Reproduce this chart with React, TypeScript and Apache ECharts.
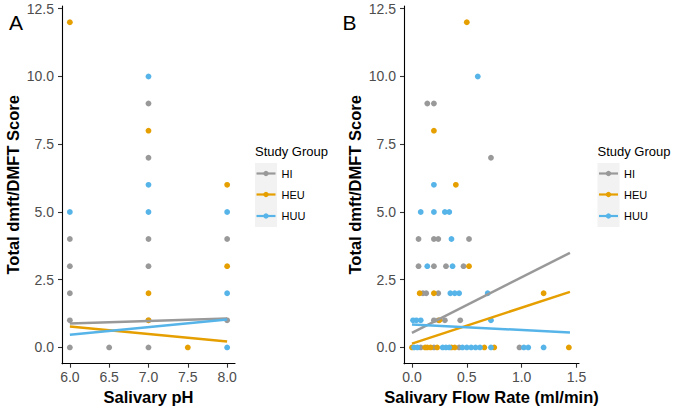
import React, { useEffect, useRef } from "react";
import * as echarts from "echarts";

const FONT = "'Liberation Sans', Arial, Helvetica, sans-serif";

const groups = ["HI", "HEU", "HUU"];
const groupColors = ["#999999", "#E69F00", "#56B4E9"];

// Panel A: [salivary pH, total dmft/DMFT score]
const phHI: number[][] = [
  [6, 4], [6, 3], [6, 2], [6, 1], [6, 0], [6.5, 0],
  [7, 9], [7, 7], [7, 4], [7, 3], [7, 1], [7, 0],
  [8, 4], [8, 1],
];
const phHEU: number[][] = [
  [6, 12], [7, 8], [7, 2], [7, 1], [7.5, 0], [8, 6], [8, 3],
];
const phHUU: number[][] = [
  [6, 5], [7, 10], [7, 6], [7, 5], [8, 5], [8, 2], [8, 0],
];

// Panel B: [salivary flow rate (ml/min), total dmft/DMFT score]
const flowHI: number[][] = [
  [0.08, 0], [0.2, 0], [0.43, 0], [0.98, 0],
  [0.2, 1], [0.24, 1], [0.3, 1], [0.44, 1],
  [0.1, 2], [0.13, 2], [0.24, 2],
  [0.06, 3], [0.2, 3], [0.31, 3], [0.47, 3],
  [0.06, 4], [0.2, 4], [0.24, 4], [0.52, 4],
  [0.72, 7], [0.14, 9], [0.2, 9],
];
const flowHEU: number[][] = [
  [0, 0], [0.12, 0], [0.14, 0], [0.17, 0], [0.23, 0], [0.36, 0], [0.39, 0],
  [0.66, 0], [0.75, 0], [1.43, 0],
  [0.25, 1],
  [0.07, 2], [0.2, 2], [1.2, 2],
  [0.52, 3],
  [0.4, 6], [0.2, 8], [0.5, 12],
];
const flowHUU: number[][] = [
  [0.02, 0], [0.05, 0], [0.28, 0], [0.31, 0], [0.34, 0], [0.46, 0], [0.5, 0],
  [0.54, 0], [0.58, 0], [0.62, 0], [0.72, 0], [1.02, 0], [1.06, 0], [1.2, 0],
  [0.01, 1], [0.04, 1], [0.08, 1], [0.72, 1],
  [0.35, 2], [0.39, 2], [0.43, 2], [0.69, 2],
  [0.14, 3], [0.37, 3],
  [0.36, 4],
  [0.08, 5], [0.2, 5], [0.3, 5], [0.34, 5],
  [0.2, 6], [0.6, 10],
];

// Fitted linear trend endpoints
const fitPhHI = [[6, 0.88], [8, 1.07]];
const fitPhHEU = [[6, 0.77], [8, 0.22]];
const fitPhHUU = [[6, 0.47], [8, 1.03]];
const fitFlowHI = [[0, 0.54], [1.44, 3.49]];
const fitFlowHEU = [[0, 0.14], [1.44, 2.05]];
const fitFlowHUU = [[0, 0.85], [1.44, 0.55]];

const yTicks = [0, 2.5, 5, 7.5, 10, 12.5];
const phTicks = [6, 6.5, 7, 7.5, 8];
const flowTicks = [0, 0.5, 1, 1.5];

const yTitle = "Total dmft/DMFT Score";
const xTitleA = "Salivary pH";
const xTitleB = "Salivary Flow Rate (ml/min)";
const legendTitle = "Study Group";

function makeXAxis(gridIndex: number, min: number, max: number, ticks: number[], name: string) {
  return {
    type: "value",
    gridIndex,
    min,
    max,
    name,
    nameLocation: "middle",
    nameGap: 24,
    nameTextStyle: { fontFamily: FONT, fontSize: 16.5, fontWeight: "bold", color: "#000" },
    splitLine: { show: false },
    axisLine: { show: true, onZero: false, lineStyle: { color: "#000", width: 1.1 } },
    axisTick: { show: true, length: 4, customValues: ticks, lineStyle: { color: "#333", width: 1.1 } },
    axisLabel: {
      customValues: ticks,
      margin: 6,
      fontFamily: FONT,
      fontSize: 14,
      color: "#4D4D4D",
      formatter: (v: number) => v.toFixed(1),
    },
  };
}

function makeYAxis(gridIndex: number) {
  return {
    type: "value",
    gridIndex,
    min: -0.6,
    max: 12.6,
    name: yTitle,
    nameLocation: "middle",
    nameGap: 41,
    nameTextStyle: { fontFamily: FONT, fontSize: 16.5, fontWeight: "bold", color: "#000" },
    splitLine: { show: false },
    axisLine: { show: true, onZero: false, lineStyle: { color: "#000", width: 1.1 } },
    axisTick: { show: true, length: 4, customValues: yTicks, lineStyle: { color: "#333", width: 1.1 } },
    axisLabel: {
      customValues: yTicks,
      margin: 8,
      fontFamily: FONT,
      fontSize: 14,
      color: "#4D4D4D",
      formatter: (v: number) => v.toFixed(1),
    },
  };
}

function legendGraphic(x0: number) {
  const children: any[] = [
    {
      type: "text",
      x: x0,
      y: 151.5,
      style: { text: legendTitle, font: `13px ${FONT}`, fill: "#000", verticalAlign: "middle" },
    },
    { type: "rect", shape: { x: x0, y: 163, width: 22, height: 64 }, style: { fill: "#F2F2F2" } },
  ];
  const ys = [173.5, 194.5, 216];
  groups.forEach((g, i) => {
    children.push({
      type: "line",
      shape: { x1: x0 + 1.5, y1: ys[i], x2: x0 + 20.5, y2: ys[i] },
      style: { stroke: groupColors[i], lineWidth: 2.2 },
    });
    children.push({
      type: "circle",
      shape: { cx: x0 + 11, cy: ys[i], r: 2.7 },
      style: { fill: groupColors[i] },
    });
    children.push({
      type: "text",
      x: x0 + 26.5,
      y: ys[i],
      style: { text: g, font: `11px ${FONT}`, fill: "#000", verticalAlign: "middle" },
    });
  });
  return { type: "group", children };
}

export default function App() {
  const ref = useRef<HTMLDivElement>(null);
  useEffect(() => {
    if (!ref.current) return;
    const chart = echarts.init(ref.current, null, { renderer: "svg" });
    const scatterA = [phHI, phHEU, phHUU];
    const scatterB = [flowHI, flowHEU, flowHUU];
    const fitA = [fitPhHI, fitPhHEU, fitPhHUU];
    const fitB = [fitFlowHI, fitFlowHEU, fitFlowHUU];
    const series: any[] = [];
    [0, 1].forEach((p) => {
      const sc = p === 0 ? scatterA : scatterB;
      const ft = p === 0 ? fitA : fitB;
      groups.forEach((g, i) => {
        series.push({
          type: "scatter",
          name: g,
          xAxisIndex: p,
          yAxisIndex: p,
          data: sc[i],
          symbol: "circle",
          symbolSize: 5.8,
          itemStyle: { color: groupColors[i], opacity: 1 },
          z: 2,
        });
      });
      groups.forEach((g, i) => {
        series.push({
          type: "line",
          name: g,
          xAxisIndex: p,
          yAxisIndex: p,
          data: ft[i],
          showSymbol: false,
          symbol: "none",
          lineStyle: { color: groupColors[i], width: 2.5 },
          z: 3,
        });
      });
    });
    chart.setOption({
      animation: false,
      backgroundColor: "#fff",
      grid: [
        { left: 62, top: 6, width: 173, height: 357.7 },
        { left: 404, top: 6, width: 175, height: 357.7 },
      ],
      xAxis: [
        makeXAxis(0, 5.9, 8.1, phTicks, xTitleA),
        makeXAxis(1, -0.0725, 1.5225, flowTicks, xTitleB),
      ],
      yAxis: [makeYAxis(0), makeYAxis(1)],
      series,
      graphic: [
        {
          type: "text",
          x: 9,
          y: 22,
          style: { text: "A", font: `21px ${FONT}`, fill: "#000", verticalAlign: "middle" },
        },
        {
          type: "text",
          x: 342.5,
          y: 22,
          style: { text: "B", font: `21px ${FONT}`, fill: "#000", verticalAlign: "middle" },
        },
        legendGraphic(255),
        legendGraphic(597.5),
      ],
    });
    return () => chart.dispose();
  }, []);
  return (
    <div
      ref={ref}
      style={{ position: "fixed", left: 0, top: 0, width: 685, height: 411, background: "#fff" }}
    />
  );
}
